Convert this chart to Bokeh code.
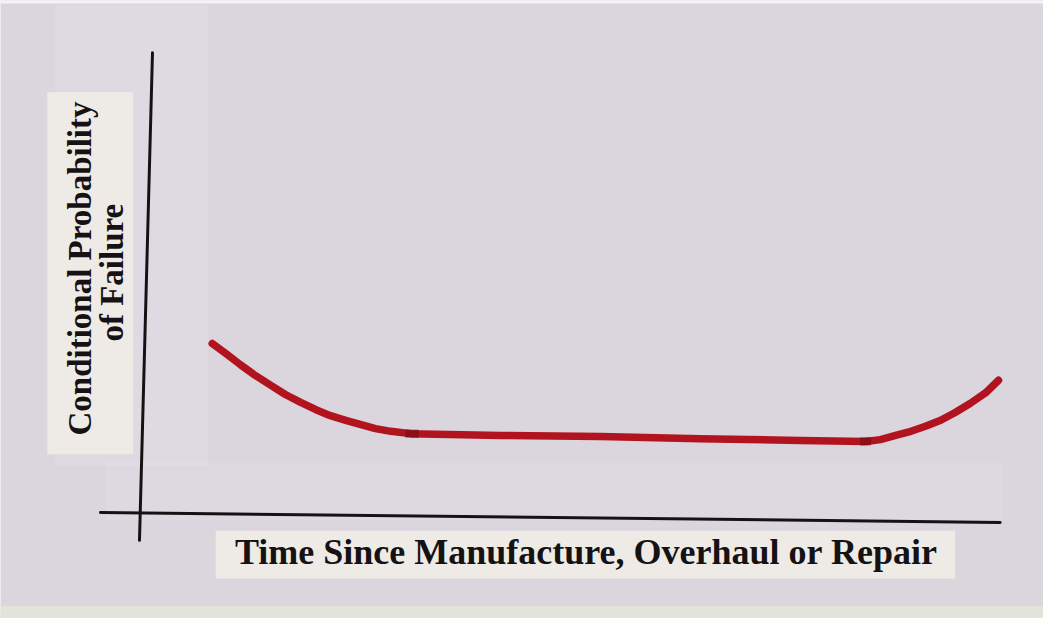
from bokeh.plotting import figure
from bokeh.models import Range1d
from bokeh.core.properties import value
from bokeh.embed import file_html
from bokeh.resources import INLINE

# ---- data ----
time = [7.5, 9.1, 10.8, 12.6, 14.4, 16.1, 17.9, 19.7, 21.4, 23.2, 24.9, 26.7,
        28.5, 30.8, 41.4, 53.2, 64.9, 76.7, 84.4, 86.1, 87.9, 89.7, 91.4, 93.2,
        94.9, 96.7, 98.5, 100.0]
failure_prob = [37.4, 35.2, 32.8, 30.4, 28.3, 26.3, 24.6, 23.0, 21.7, 20.7, 19.8,
                18.9, 18.3, 17.8, 17.4, 17.2, 16.7, 16.3, 16.1, 16.5, 17.4, 18.3,
                19.4, 20.7, 22.4, 24.4, 26.7, 29.4]
# pen re-touch spots where the marker was lifted (time, prob)
touch_time = [[30.2, 31.8], [83.7, 85.0]]
touch_prob = [[17.85, 17.8], [16.1, 16.15]]
y_label_lines = ["Conditional Probability", "of Failure"]
x_label = "Time Since Manufacture, Overhaul or Repair"

PAPER = "#dbd5de"
INK = "#161214"
RED = "#b2141f"
STRIP = "#eeebe6"
FONT = value("Liberation Serif")

p = figure(width=1043, height=618, output_backend="svg", toolbar_location=None,
           x_range=Range1d(-17.41, 105.29), y_range=Range1d(-22.39, 111.96),
           min_border=0, min_border_left=0, min_border_right=0,
           min_border_top=0, min_border_bottom=0)
p.xaxis.visible = False
p.yaxis.visible = False
p.grid.visible = False
p.outline_line_color = None
p.background_fill_color = PAPER
p.border_fill_color = PAPER

# translucent tape pieces on the paper
p.quad(left=[-11.0], right=[7.0], bottom=[11.0], top=[111.0],
       fill_color="white", fill_alpha=0.13, line_color=None)
p.quad(left=[-5.0], right=[100.5], bottom=[-1.0], top=[11.5],
       fill_color="white", fill_alpha=0.10, line_color=None)
# lighter bottom edge of the sheet
p.quad(left=[-17.41], right=[105.29], bottom=[-22.39], top=[-19.6],
       fill_color="#e3e3da", line_color=None)
# thin white top edge
p.quad(left=[-17.41], right=[105.29], bottom=[111.3], top=[111.96],
       fill_color="#f4f2f4", line_color=None)

# white label strips
p.quad(left=[-11.9], right=[-1.8], bottom=[13.3], top=[92.0],
       fill_color=STRIP, line_color=None)
p.quad(left=[7.9], right=[94.9], bottom=[-13.7], top=[-3.3],
       fill_color=STRIP, line_color=None)

# hand-drawn axes
p.segment(x0=[0.47], y0=[100.6], x1=[-1.06], y1=[-5.4],
          line_color=INK, line_width=3, line_cap="round")
p.segment(x0=[-5.65], y0=[0.65], x1=[100.2], y1=[-1.5],
          line_color=INK, line_width=3, line_cap="round")

# bathtub curve
p.line(time, failure_prob, line_color=RED, line_width=7.5,
       line_cap="round", line_join="round")
p.multi_line(touch_time, touch_prob, line_color="#7a0c16", line_width=8,
             line_alpha=0.7)

# labels
p.text(x=[-8.0, -4.3], y=[53.7, 52.8], text=y_label_lines, angle=1.5708,
       text_font=FONT, text_font_style="bold", text_font_size="33px",
       text_color=INK, text_align="center", text_baseline="middle")
p.text(x=[51.5], y=[-8.0], text=[x_label],
       text_font=FONT, text_font_style="bold", text_font_size="36px",
       text_color=INK, text_align="center", text_baseline="middle")

open("out.html", "w").write(file_html(p, INLINE))
